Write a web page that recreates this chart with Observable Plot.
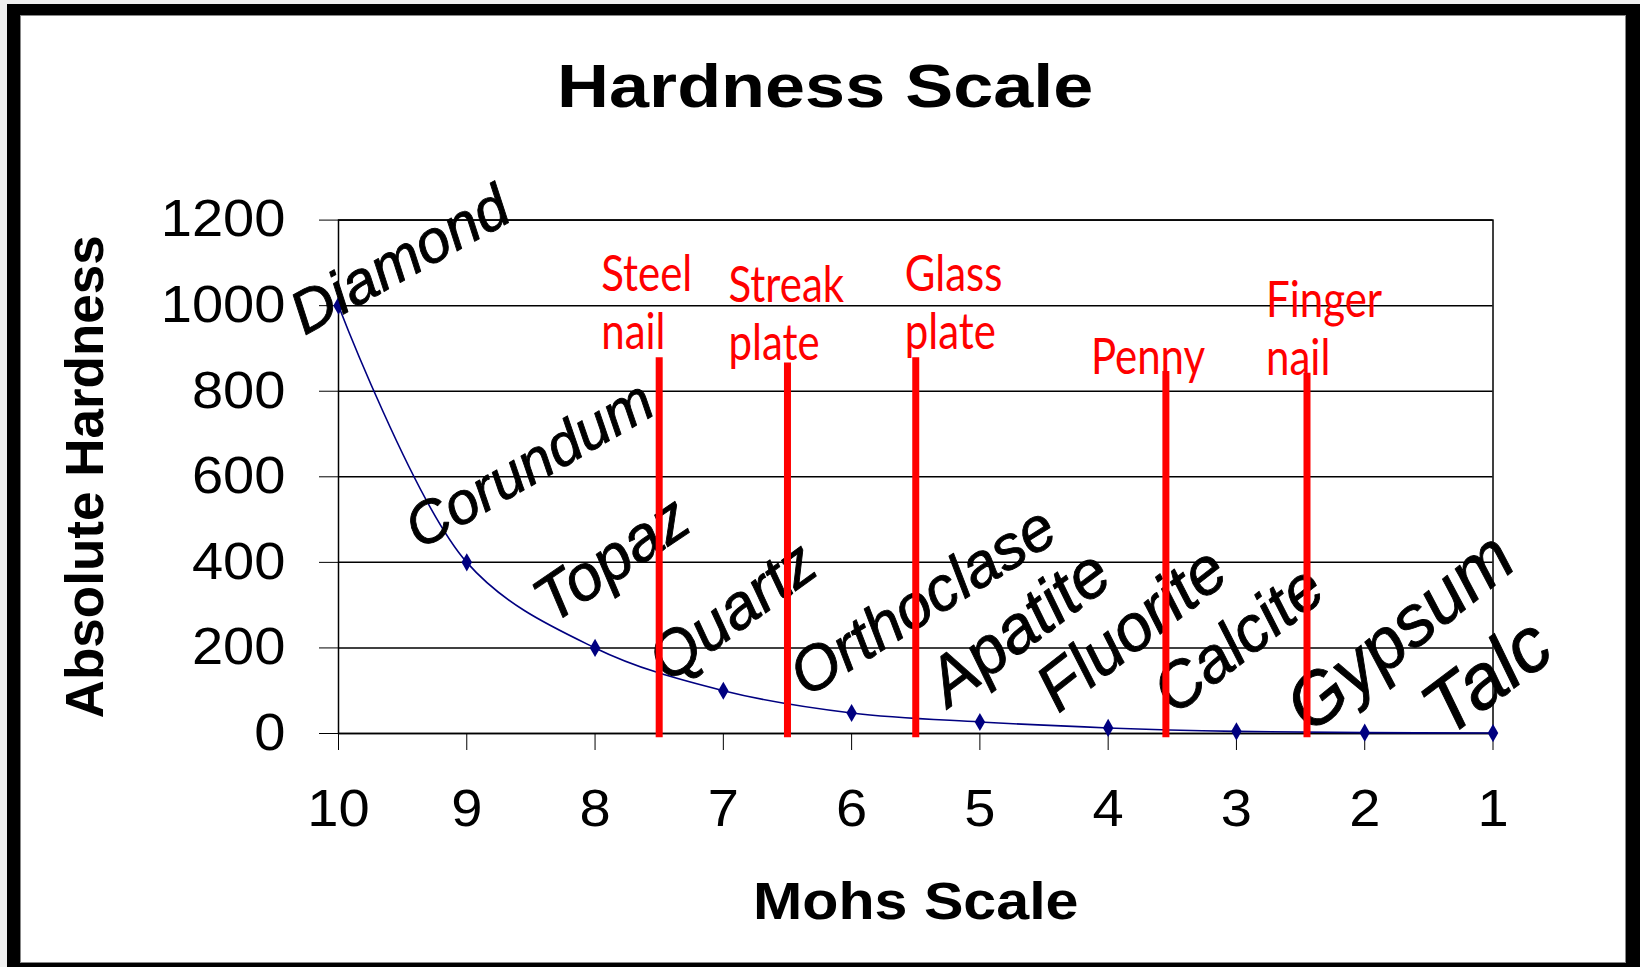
<!DOCTYPE html>
<html><head><meta charset="utf-8">
<script src="https://cdn.jsdelivr.net/npm/d3@7"></script>
<script src="https://cdn.jsdelivr.net/npm/@observablehq/plot@0.6"></script>
<style>
html,body{margin:0;padding:0}
body{width:1640px;height:967px;background:#f0f0f0;position:relative;overflow:hidden;font-family:"Liberation Sans",Arial,sans-serif}
#frame{position:absolute;left:7px;top:4px;width:1633px;height:963px;background:#000}
#white{position:absolute;left:20px;top:15px;width:1606px;height:948px;background:#fff;box-shadow:inset 0 0 0 1px #888}
#title{position:absolute;left:22px;width:1606px;top:56px;text-align:center;font-weight:bold;font-size:61px;line-height:1;color:#000}
#title span{display:inline-block;transform:scaleX(1.18)}
#chart{position:absolute;left:20px;top:150px}
</style></head><body>
<div id="frame"></div><div id="white"></div>
<div id="title"><span>Hardness Scale</span></div>
<div id="chart"></div>
<script>
// ---- data ----
const mohs = [10, 9, 8, 7, 6, 5, 4, 3, 2, 1];
const minerals = ["Diamond", "Corundum", "Topaz", "Quartz", "Orthoclase", "Apatite", "Fluorite", "Calcite", "Gypsum", "Talc"];
const hardness = [1000, 400, 200, 100, 48, 27, 13, 5, 2, 1];
const tools = ["Steel\nnail", "Streak\nplate", "Glass\nplate", "Penny", "Finger\nnail"];
const toolMohs = [7.5, 6.5, 5.5, 3.55, 2.45];
const toolTop = [878, 866, 878, 846, 842];
const toolBottom = -10;
const xTicks = [10, 9, 8, 7, 6, 5, 4, 3, 2, 1];
const yTicks = [0, 200, 400, 600, 800, 1000, 1200];
const xTitle = "Mohs Scale";
const yTitle = "Absolute Hardness";

// ---- layout (pixel nudges / sizes, not data) ----
const mineralNudge = [[-34, 30], [-47, -12], [-43, -23], [-55, -7], [-45, -15], [-31, -14], [-50, -14], [-62, -15], [-54, 2], [-46, 6]];
const mineralSize = [60, 59, 64, 63, 62, 67, 66, 64, 72, 77];
const mineralAngle = [-29, -30, -34, -36, -32, -37, -38, -38, -39, -37];
const toolNudge = [[-58, -9], [-59, -3], [-11, -9], [-75, 2], [-41, 2]];

const pts = mohs.map((m, i) => ({mohs: m, hardness: hardness[i], mineral: minerals[i]}));
const toolRows = tools.map((t, i) => ({tool: t, mohs: toolMohs[i], top: toolTop[i], bottom: toolBottom}));

const mineralMarks = pts.map((p, i) => Plot.text([p], {
  x: "mohs", y: "hardness", text: "mineral",
  rotate: mineralAngle[i], textAnchor: "start", lineAnchor: "bottom",
  fontStyle: "italic", fontSize: mineralSize[i], fill: "#000", stroke: "#000", strokeWidth: 0.9,
  dx: mineralNudge[i][0], dy: mineralNudge[i][1]
}));
const toolLabelMarks = toolRows.map((r, i) => Plot.text([r], {
  x: "mohs", y: "top", text: "tool",
  textAnchor: "start", lineAnchor: "bottom", lineHeight: 1.16,
  fontFamily: "Lato, 'Open Sans', sans-serif", fontSize: 50, fill: "#ff0000",
  dx: toolNudge[i][0], dy: toolNudge[i][1]
}));

const chart = Plot.plot({
  width: 1606, height: 813,
  marginLeft: 318, marginRight: 133.5, marginTop: 69.6, marginBottom: 230,
  style: {fontFamily: "'Liberation Sans', Arial, sans-serif", fontSize: "51px", color: "#000", background: "transparent", overflow: "visible"},
  x: {domain: [10, 1], ticks: xTicks, tickSize: 17, tickPadding: 39, tickFormat: d => String(d), label: null},
  y: {domain: [0, 1200], ticks: yTicks, tickSize: 19, tickPadding: 34, tickFormat: d => String(d), label: null},
  marks: [
    Plot.ruleY(yTicks, {stroke: "#000", strokeWidth: 1.5}),
    Plot.frame({stroke: "#000", strokeWidth: 1.5}),
    Plot.line(pts, {x: "mohs", y: "hardness", stroke: "#000080", strokeWidth: 1.6, curve: "catmull-rom"}),
    Plot.dot(pts, {x: "mohs", y: "hardness", symbol: "diamond", fill: "#000080", stroke: "none", r: 5.5}),
    ...mineralMarks,
    Plot.ruleX(toolRows, {x: "mohs", y1: "bottom", y2: "top", stroke: "#ff0000", strokeWidth: 7}),
    ...toolLabelMarks,
    Plot.text([xTitle], {frameAnchor: "bottom", text: d => d, dy: 185, lineAnchor: "bottom", fontWeight: "bold", fontSize: 51}),
    Plot.text([yTitle], {frameAnchor: "left", text: d => d, dx: -252, rotate: -90, textAnchor: "middle", lineAnchor: "middle", fontWeight: "bold", fontSize: 53})
  ]
});
document.getElementById("chart").append(chart);

function stretchText(t, k) {
  const L = t.getComputedTextLength();
  if (L > 0) { t.setAttribute("textLength", L * k); t.setAttribute("lengthAdjust", "spacingAndGlyphs"); }
}
chart.querySelectorAll('g[aria-label*="axis"] text').forEach(t => stretchText(t, 1.1));
chart.querySelectorAll('text').forEach(t => { if (t.textContent === xTitle) stretchText(t, 1.16); });
// condense the red tool labels (narrow humanist face in the original)
chart.querySelectorAll('text').forEach(t => {
  if (!tools.some(s => s.replace("\n", "") === t.textContent)) return;
  const spans = t.querySelectorAll('tspan');
  if (spans.length) spans.forEach(s => stretchText(s, 0.84)); else stretchText(t, 0.84);
});
</script>
</body></html>
